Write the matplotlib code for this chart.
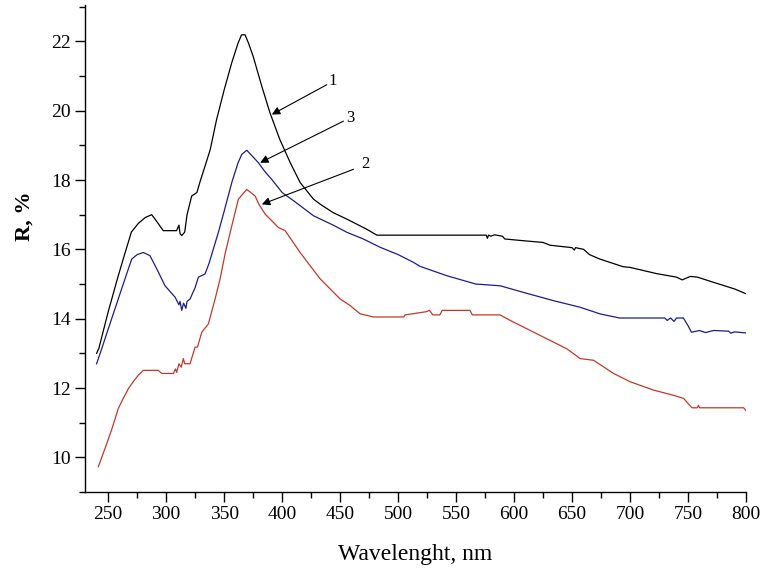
import matplotlib
matplotlib.use("Agg")
import matplotlib.pyplot as plt
from matplotlib.ticker import MultipleLocator

plt.rcParams['font.family'] = ['Liberation Serif', 'DejaVu Serif']

# Curve 1 (black)
x1 = [240, 242, 250, 258.7, 265, 270, 276, 282, 287.5, 290.5, 297.5, 309, 311, 312, 313.5, 316, 318,
      322, 326.5, 329, 333.5, 338, 343.5, 350, 356.5, 362, 365, 368, 371, 375, 382.5, 389.5, 398,
      407, 415.5, 427, 433, 444, 456, 473, 481.7, 576, 577, 578, 580, 583, 590, 592, 608, 625, 631,
      650, 652, 653, 660, 665, 674, 694, 700, 723, 740, 745, 752, 758, 772, 790, 800]
y1 = [13.0, 13.15, 14.2, 15.24, 15.95, 16.5, 16.75, 16.92, 17.0, 16.87, 16.54, 16.54, 16.7, 16.45,
      16.4, 16.5, 17.0, 17.54, 17.64, 17.93, 18.4, 18.88, 19.75, 20.6, 21.38, 21.95, 22.19, 22.19,
      21.95, 21.57, 20.7, 19.94, 19.17, 18.5, 17.93, 17.45, 17.3, 17.06, 16.87, 16.58, 16.41, 16.41,
      16.32, 16.41, 16.38, 16.42, 16.38, 16.3, 16.25, 16.2, 16.12, 16.05, 15.98, 16.05, 16.0, 15.85,
      15.72, 15.5, 15.48, 15.3, 15.2, 15.12, 15.22, 15.2, 15.05, 14.86, 14.72]

# Curve 3 (blue)
x3 = [240, 244.4, 250, 258.7, 265, 270.3, 275, 280.3, 286, 292, 299, 307.7, 311, 312, 313.4, 315,
      317, 318, 320.6, 325, 327.8, 333.5, 337, 345, 350, 356.6, 362, 365.2, 369.5, 374, 379.5, 385,
      391, 400, 410, 427, 444, 456, 470, 484.5, 500, 513, 519, 542, 567, 588, 608, 634, 657, 674,
      691, 730, 732, 735, 738, 740, 746, 750, 753, 760, 765, 772, 785, 787, 790, 800]
y3 = [12.7, 13.13, 13.7, 14.57, 15.2, 15.72, 15.85, 15.91, 15.82, 15.43, 14.95, 14.62, 14.4, 14.5,
      14.24, 14.45, 14.3, 14.5, 14.57, 14.9, 15.2, 15.29, 15.6, 16.49, 17.1, 17.93, 18.5, 18.74,
      18.86, 18.7, 18.5, 18.25, 18.02, 17.64, 17.4, 16.97, 16.7, 16.49, 16.3, 16.06, 15.85, 15.63,
      15.51, 15.24, 15.0, 14.95, 14.76, 14.52, 14.33, 14.14, 14.02, 14.02, 13.95, 14.02, 13.92,
      14.02, 14.02, 13.8, 13.61, 13.66, 13.6, 13.66, 13.64, 13.58, 13.62, 13.59]

# Curve 2 (red)
x2 = [241.5, 247.3, 253, 258.7, 263, 267.4, 272, 276, 280.3, 293.2, 296.2, 306.2, 308, 309, 311,
      313, 314.8, 316, 320.6, 324.9, 327, 330.7, 336.4, 342.2, 346.5, 351, 356.6, 362.3, 369.5,
      376.7, 380, 385.3, 396.8, 402.6, 415.5, 432.8, 450, 458.6, 467.3, 478.8, 505, 506, 524, 527,
      530, 536, 538, 562, 564, 588, 596.7, 611, 628.3, 645.6, 657, 668.6, 685.8, 700.2, 720.3,
      737.6, 746.2, 753.4, 758, 759, 760, 798, 800]
y2 = [9.73, 10.26, 10.8, 11.41, 11.7, 11.98, 12.2, 12.37, 12.51, 12.51, 12.42, 12.42, 12.55, 12.45,
      12.7, 12.6, 12.85, 12.7, 12.7, 13.18, 13.18, 13.61, 13.85, 14.57, 15.15, 15.9, 16.68, 17.45,
      17.73, 17.54, 17.3, 17.02, 16.63, 16.54, 15.91, 15.15, 14.57, 14.38, 14.14, 14.05, 14.05,
      14.11, 14.2, 14.24, 14.11, 14.11, 14.24, 14.24, 14.11, 14.11, 13.95, 13.71, 13.42, 13.13,
      12.85, 12.8, 12.42, 12.18, 11.94, 11.79, 11.7, 11.43, 11.43, 11.5, 11.43, 11.43, 11.35]

labels = ["1", "3", "2"]
arrow_heads = [(391.1, 19.89), (381.0, 18.5), (382.5, 17.3)]
arrow_tails = [(438.5, 20.75), (452.9, 19.7), (461.5, 18.31)]
label_pos = [(443.5, 20.85), (459.0, 19.8), (472.0, 18.45)]

fig = plt.figure(figsize=(7.63, 5.69), dpi=100)
ax = fig.add_axes([0.1114, 0.1353, 0.8663, 0.8559])

ax.plot(x1, y1, color='black', lw=0.9)
ax.plot(x3, y3, color='#1c1c8a', lw=0.9)
ax.plot(x2, y2, color='#c0392b', lw=0.9)

for lab, head, tail, lp in zip(labels, arrow_heads, arrow_tails, label_pos):
    ax.annotate('', xy=head, xytext=tail,
                arrowprops=dict(arrowstyle='-|>', color='black', lw=0.8,
                                mutation_scale=12, shrinkA=0, shrinkB=0))
    ax.text(lp[0], lp[1], lab, fontsize=12, ha='center', va='center')

ax.set_xlim(230, 800)
ax.set_ylim(9, 23.05)
ax.xaxis.set_major_locator(MultipleLocator(50))
ax.xaxis.set_minor_locator(MultipleLocator(25))
ax.yaxis.set_major_locator(MultipleLocator(2))
ax.yaxis.set_minor_locator(MultipleLocator(1))
ax.set_xticks(range(250, 801, 50))

for s in ['top', 'right']:
    ax.spines[s].set_visible(False)
for s in ['left', 'bottom']:
    ax.spines[s].set_linewidth(1.0)

ax.tick_params(which='major', direction='out', length=7, width=1.0, labelsize=14, pad=3)
ax.tick_params(which='minor', direction='out', length=4, width=1.0)

ax.set_xlabel('Wavelenght, nm', fontsize=17)
ax.set_ylabel('R, %', fontsize=16, fontweight='bold')
ax.xaxis.label.set_va('center')
ax.xaxis.set_label_coords(0.5, -0.129)
ax.yaxis.label.set_va('center')
ax.yaxis.set_label_coords(-0.092, 0.567)

fig.savefig('out.png', dpi=100)
